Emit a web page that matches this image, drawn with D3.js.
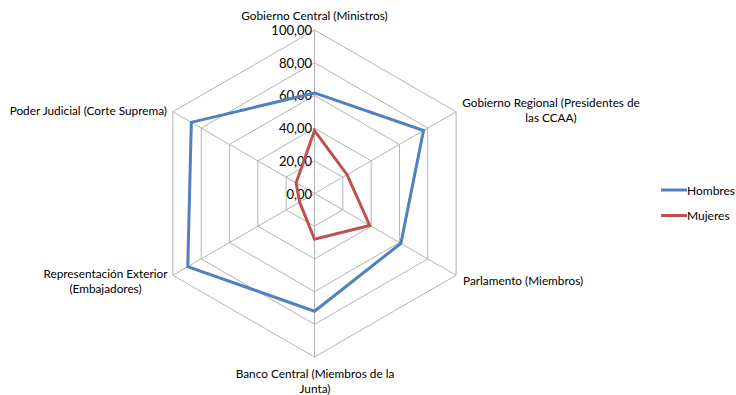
<!DOCTYPE html>
<html><head><meta charset="utf-8">
<script src="https://cdn.jsdelivr.net/npm/d3@7"></script>
<style>body{margin:0;background:#fff}svg text{font-family:Lato,"Open Sans",sans-serif;fill:#000}</style>
</head><body>
<svg id="c" width="736" height="395"></svg>
<script>
const categories = [
  ["Gobierno Central (Ministros)"],
  ["Gobierno Regional (Presidentes de","las CCAA)"],
  ["Parlamento (Miembros)"],
  ["Banco Central (Miembros de la","Junta)"],
  ["Representación Exterior","(Embajadores)"],
  ["Poder Judicial (Corte Suprema)"]
];
const hombres = [61.5, 77, 61, 72, 89.5, 87];
const mujeres = [38.5, 23, 39, 28, 10.5, 13];
const ticks = [0, 20, 40, 60, 80, 100];
const seriesNames = ["Hombres", "Mujeres"];
const colors = ["#4f81bd", "#c0504d"];

const svg = d3.select("#c");
const cx = 314.5, cy = 193.5, R = 163.5;
const r = d3.scaleLinear().domain([0, 100]).range([0, R]);
const ang = d3.scaleLinear().domain([0, categories.length]).range([0, 2 * Math.PI]);
const pt = (i, v) => [cx + r(v) * Math.sin(ang(i)), cy - r(v) * Math.cos(ang(i))];
const fmt = v => d3.format(".2f")(v).replace(".", ",");

// grid rings
const g = svg.append("g");
ticks.slice(1).forEach(t => {
  g.append("path")
    .attr("d", d3.line()(categories.map((c, i) => pt(i, t))) + "Z")
    .attr("fill", "none").attr("stroke", "#b3b3b3").attr("stroke-width", 1);
});
// spokes
categories.forEach((c, i) => {
  const p = pt(i, 100);
  g.append("line").attr("x1", cx).attr("y1", cy).attr("x2", p[0]).attr("y2", p[1])
    .attr("stroke", "#b3b3b3").attr("stroke-width", 1);
});
// tick labels
ticks.forEach(t => {
  svg.append("text").attr("x", cx - 2.5).attr("y", cy - r(t) + 5)
    .attr("text-anchor", "end").attr("font-size", 13).text(fmt(t));
});

// series
[hombres, mujeres].forEach((s, k) => {
  svg.append("path")
    .attr("d", d3.line()(s.map((v, i) => pt(i, v))) + "Z")
    .attr("fill", "none").attr("stroke", colors[k]).attr("stroke-width", 3)
    .attr("stroke-linejoin", "miter");
});

// category labels
const labelPos = [
  {x: 314.5, y: 19.5, a: "middle"},
  {x: 551, y: 106.5, a: "middle"},
  {x: 463, y: 285, a: "start"},
  {x: 315, y: 377.5, a: "middle"},
  {x: 105.5, y: 277.5, a: "middle"},
  {x: 167, y: 115, a: "end"}
];
categories.forEach((lines, i) => {
  const lp = labelPos[i];
  const t = svg.append("text").attr("x", lp.x).attr("y", lp.y)
    .attr("text-anchor", lp.a).attr("font-size", 11.8);
  lines.forEach((l, j) => t.append("tspan").attr("x", lp.x).attr("dy", j ? 15.5 : 0).text(l));
});

// legend
seriesNames.forEach((n, k) => {
  const y = 190 + k * 25.5;
  svg.append("line").attr("x1", 661).attr("x2", 687).attr("y1", y).attr("y2", y)
    .attr("stroke", colors[k]).attr("stroke-width", 3);
  svg.append("text").attr("x", 687).attr("y", y + 4.5).attr("font-size", 12).text(n);
});
</script>
</body></html>
